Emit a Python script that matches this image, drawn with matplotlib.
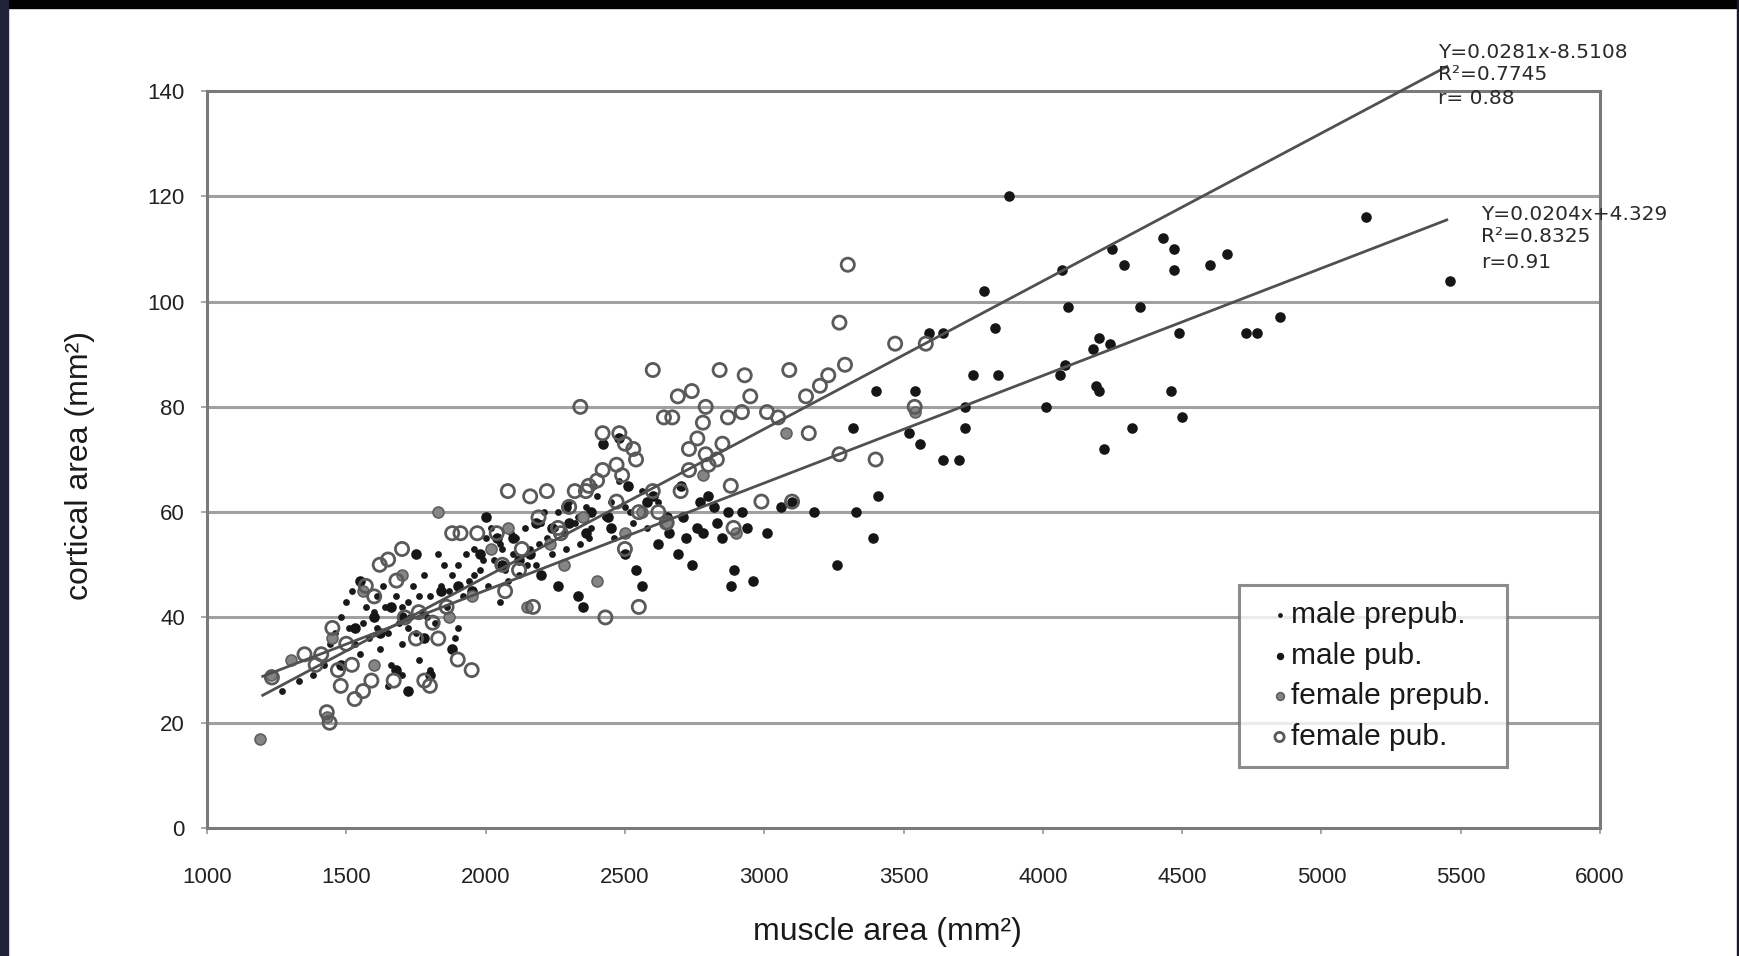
import matplotlib
matplotlib.use("Agg")
import matplotlib.pyplot as plt
from matplotlib.patches import Rectangle
import numpy as np

# ---------------- data ----------------
male_prepub_x = [1270, 1330, 1380, 1420, 1440, 1460, 1480, 1500, 1510, 1530, 1550, 1560, 1580, 1600,
                 1610, 1620, 1640, 1650, 1660, 1680, 1690, 1700, 1720, 1730, 1740, 1750, 1760, 1770,
                 1780, 1800, 1820, 1830, 1840, 1860, 1880, 1890, 1900, 1920, 1940, 1960, 1980, 2000,
                 2010, 2030, 2050, 2070, 2090, 2100, 2120, 2140, 2160, 2180, 2200, 2220, 2240, 2260,
                 2280, 2300, 2320, 2340, 2360, 2380, 2400, 2430, 2460, 2500, 2530, 2560, 1650, 1700,
                 1800, 1900, 2050,
                 1520, 1570, 1610, 1630, 1700, 1720, 1760, 1790, 1850, 1870, 1930, 1960, 1990, 2020,
                 2060, 2080, 2110, 2150, 2190, 2210, 2250, 2290, 2330, 2370, 2390, 2450, 2480, 2520,
                 2580, 2620]
male_prepub_y = [26, 28, 29, 31, 35, 37, 40, 43, 38, 35, 33, 39, 36, 41,
                 38, 34, 42, 37, 31, 44, 39, 35, 43, 40, 46, 37, 32, 41,
                 48, 44, 39, 52, 46, 42, 48, 36, 50, 44, 47, 53, 49, 55,
                 46, 51, 54, 49, 56, 52, 48, 57, 53, 50, 58, 55, 52, 60,
                 56, 62, 58, 54, 61, 57, 63, 59, 55, 61, 58, 64, 27, 29,
                 30, 38, 43,
                 45, 42, 44, 46, 42, 38, 44, 40, 50, 45, 52, 48, 51, 57,
                 53, 47, 55, 50, 54, 60, 57, 53, 59, 55, 65, 62, 66, 60,
                 57, 62]

male_pub_x = [1480, 1550, 1600, 1680, 1720, 1750, 1800, 1840, 1880, 1950, 2000, 2060, 2100, 2160,
              2200, 2260, 2300, 2330, 2350, 2380, 2420, 2450, 2480, 2500, 2540, 2560, 2600, 2620,
              2650, 2700, 2720, 2740, 2760, 2780, 2800, 2820, 2850, 2880, 2890, 2920, 2960, 3010,
              3060, 3100, 3180, 3260, 3320, 3330, 3390, 3400, 3410, 3520, 3540, 3560, 3590, 3640,
              3640, 3700, 3720, 3720, 3750, 3790, 3830, 3840, 3880, 4010, 4060, 4080, 4090, 4070,
              4180, 4190, 4200, 4200, 4220, 4250, 4240, 4290, 4320, 4350, 4430, 4460, 4470, 4470,
              4490, 4500, 4600, 4660, 4730, 4770, 4850, 5160, 5460,
              1530, 1620, 1660, 1700, 1780, 1900, 1980, 2040, 2120, 2180, 2240, 2290, 2360, 2440,
              2510, 2580, 2660, 2690, 2710, 2770, 2830, 2870, 2940]
male_pub_y = [31, 47, 40, 30, 26, 52, 29, 45, 34, 45, 59, 50, 55, 52,
              48, 46, 58, 44, 42, 60, 73, 57, 74, 52, 49, 46, 63, 54,
              59, 65, 55, 50, 57, 56, 63, 61, 55, 46, 49, 60, 47, 56,
              61, 62, 60, 50, 76, 60, 55, 83, 63, 75, 83, 73, 94, 70,
              94, 70, 76, 80, 86, 102, 95, 86, 120, 80, 86, 88, 99, 106,
              91, 84, 93, 83, 72, 110, 92, 107, 76, 99, 112, 83, 110, 106,
              94, 78, 107, 109, 94, 94, 97, 116, 104,
              38, 37, 42, 40, 36, 46, 52, 55, 51, 58, 57, 61, 56, 59,
              65, 62, 56, 52, 59, 62, 58, 60, 57]

female_prepub_x = [1190, 1230, 1300, 1430, 1450, 1560, 1600, 1700, 1830, 1870, 1950, 2020, 2080,
                   2150, 2230, 2280, 2350, 2400, 2500, 2560, 2650, 2780, 2900, 3080, 3540]
female_prepub_y = [17, 29, 32, 21, 36, 45, 31, 48, 60, 40, 44, 53, 57,
                   42, 54, 50, 59, 47, 56, 60, 58, 67, 56, 75, 79]

female_pub_x = [1233, 1350, 1390, 1410, 1430, 1440, 1450, 1470, 1480, 1500, 1520, 1530, 1560, 1570,
                1590, 1600, 1620, 1650, 1670, 1680, 1700, 1710, 1750, 1760, 1780, 1800, 1810, 1830,
                1860, 1880, 1900, 1910, 1950, 1970, 2040, 2060, 2070, 2080, 2120, 2130, 2160, 2170,
                2190, 2220, 2260, 2270, 2300, 2320, 2340, 2360, 2370, 2400, 2420, 2420, 2430, 2470,
                2470, 2480, 2490, 2500, 2500, 2530, 2540, 2550, 2550, 2600, 2600, 2620, 2640, 2650,
                2670, 2690, 2700, 2730, 2730, 2740, 2760, 2780, 2790, 2790, 2800, 2830, 2840, 2850,
                2870, 2880, 2890, 2920, 2930, 2950, 2990, 3010, 3050, 3090, 3100, 3150, 3160, 3200,
                3230, 3270, 3270, 3290, 3300, 3400, 3470, 3540, 3580]
female_pub_y = [28.6, 33, 31, 33, 22, 20, 38, 30, 27, 35, 31, 24.5, 26, 46,
                28, 44, 50, 51, 28, 47, 53, 40, 36, 41, 28, 27, 39, 36,
                42, 56, 32, 56, 30, 56, 56, 50, 45, 64, 49, 53, 63, 42,
                59, 64, 57, 56, 61, 64, 80, 64, 65, 66, 68, 75, 40, 62,
                69, 75, 67, 53, 73, 72, 70, 42, 60, 64, 87, 60, 78, 58,
                78, 82, 64, 68, 72, 83, 74, 77, 80, 71, 69, 70, 87, 73,
                78, 65, 57, 79, 86, 82, 62, 79, 78, 87, 62, 82, 75, 84,
                86, 96, 71, 88, 107, 70, 92, 80, 92]

# regression lines: slope, intercept, x-range
fit_slopes = [0.0281, 0.0204]
fit_intercepts = [-8.5108, 4.329]
fit_xrange = [1200, 5450]
fit_labels = [["Y=0.0281x-8.5108", "R²=0.7745", "r= 0.88"],
              ["Y=0.0204x+4.329", "R²=0.8325", "r=0.91"]]

legend_labels = ["male prepub.", "male pub.", "female prepub.", "female pub."]
x_ticks = [1000, 1500, 2000, 2500, 3000, 3500, 4000, 4500, 5000, 5500, 6000]
y_ticks = [0, 20, 40, 60, 80, 100, 120, 140]

# ---------------- figure ----------------
plt.rcParams['font.family'] = ['Liberation Sans', 'DejaVu Sans']
W, H = 1739, 956
fig = plt.figure(figsize=(W / 100, H / 100), dpi=100)
fig.patch.set_facecolor('white')

ax = fig.add_axes([207 / W, 1 - 828 / H, (1600 - 207) / W, (828 - 91) / H])
ax.set_xlim(1000, 6000)
ax.set_ylim(0, 140)

grid_c = '#a0a0a0'
for yv in y_ticks[1:-1]:
    ax.axhline(yv, color=grid_c, lw=2.2, zorder=1)
for s in ax.spines.values():
    s.set_color('#7a7a7a')
    s.set_linewidth(2.2)

ax.set_xticks(x_ticks)
ax.set_yticks(y_ticks)
ax.tick_params(axis='x', length=4, width=1.2, color='#9a9a9a', pad=24, labelsize=16, labelcolor='#222222')
ax.tick_params(axis='y', length=4, width=1.2, color='#9a9a9a', pad=12, labelsize=16, labelcolor='#222222')

# scatter groups
h1 = ax.scatter(male_prepub_x, male_prepub_y, s=24, marker='o', color='#1a1a1a', zorder=3, linewidths=0)
h2 = ax.scatter(male_pub_x, male_pub_y, s=58, marker='o', color='#161616', zorder=3, linewidths=0)
h3 = ax.scatter(female_prepub_x, female_prepub_y, s=62, marker='o', color='#858585', zorder=3,
                edgecolors='#606060', linewidths=1.2)
h4 = ax.scatter(female_pub_x, female_pub_y, s=90, marker='o', facecolors='none', edgecolors='#5a5a5a',
                linewidths=2.0, zorder=3)

# regression lines
xs = np.array(fit_xrange, dtype=float)
for m, b in zip(fit_slopes, fit_intercepts):
    ax.plot(xs, m * xs + b, color='#505050', lw=2.0, zorder=4, clip_on=False)

# equation annotations
ann_pos = [(1438, [52, 75, 99]), (1481, [214, 237, 262])]
for (px, pys), lines in zip(ann_pos, fit_labels):
    for py, t in zip(pys, lines):
        fig.text(px / W, 1 - py / H, t, fontsize=14.5, color='#2a2a2a', va='center', ha='left',
                 family=['DejaVu Sans'])

# legend
leg = ax.legend([h1, h2, h3, h4], legend_labels, loc='upper left', bbox_to_anchor=(0.741, 0.33),
                frameon=True, fancybox=False, fontsize=21.5, handlelength=1.6, handletextpad=-0.4,
                borderpad=0.55, labelspacing=0.42, markerscale=0.7, borderaxespad=0)
leg.get_frame().set_edgecolor('#707070')
leg.get_frame().set_linewidth(2.2)
leg.set_zorder(6)
for t in leg.get_texts():
    t.set_color('#1a1a1a')

# axis labels
fig.text(887 / W, 1 - 932 / H, 'muscle area (mm²)', fontsize=23, ha='center', va='center', color='#1a1a1a')
fig.text(80 / W, 1 - 466 / H, 'cortical area (mm²)', fontsize=23, ha='center', va='center',
         rotation=90, color='#1a1a1a')

# outer frame (black bands of the scanned picture)
fig.patches.append(Rectangle((0, 1 - 8 / H), 1, 8 / H, transform=fig.transFigure, color='black', zorder=10))
fig.patches.append(Rectangle((0, 0), 8 / W, 1, transform=fig.transFigure, color='#22223a', zorder=10))
fig.patches.append(Rectangle((1 - 2 / W, 0), 2 / W, 1, transform=fig.transFigure, color='#1a1a2a', zorder=10))

fig.savefig('out.png', dpi=100, facecolor='white')
